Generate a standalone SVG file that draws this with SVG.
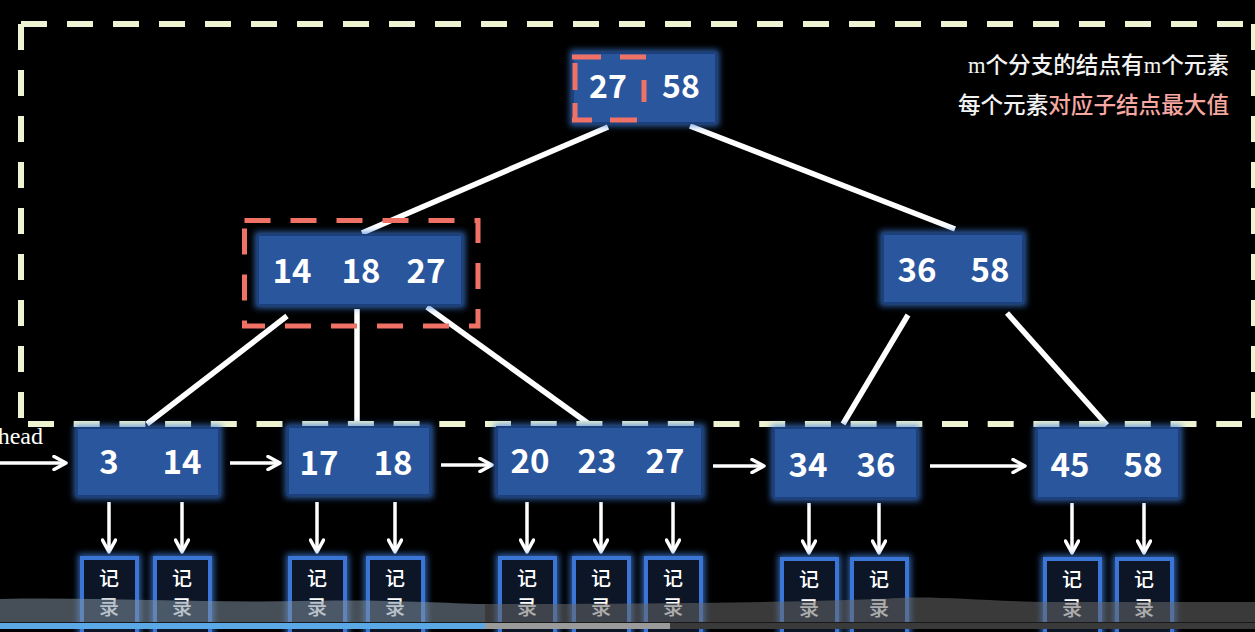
<svg xmlns="http://www.w3.org/2000/svg" width="1255" height="632" viewBox="0 0 1255 632">
<defs>
<style>
.node{fill:#2c569d;stroke:#1d3f7c;stroke-width:2;filter:url(#glow)}
.num{font-family:"Noto Sans CJK SC","Noto Sans",sans-serif;font-weight:bold;font-size:33px;fill:#fff;text-anchor:middle}
.rec{fill:#0a1326;stroke:#3a74d6;stroke-width:4;filter:url(#glow)}
.rt{font-family:"Noto Sans CJK SC",sans-serif;font-weight:500;font-size:20px;fill:#fff;text-anchor:middle}
.edge{stroke:#fff;stroke-width:5.5;fill:none}
.arr{stroke:#fff;stroke-width:3.5;fill:none;marker-end:url(#ah)}
.dash{stroke:#eef3d2;stroke-width:6;fill:none;stroke-dasharray:26 20}
.red{stroke:#f07266;stroke-width:5;fill:none}
.note{font-family:"Noto Sans CJK SC",sans-serif;font-weight:500;font-size:22.6px;fill:#f2f2f2;text-anchor:end}
</style>
<filter id="glow" x="-20%" y="-20%" width="140%" height="140%">
<feMorphology operator="dilate" radius="2" in="SourceAlpha" result="d"/>
<feGaussianBlur in="d" stdDeviation="3" result="b"/>
<feFlood flood-color="#3f7fe0" flood-opacity="0.75"/>
<feComposite in2="b" operator="in" result="g"/>
<feMerge><feMergeNode in="g"/><feMergeNode in="SourceGraphic"/></feMerge>
</filter>
<marker id="ah" viewBox="0 0 16 16" refX="14" refY="8" markerWidth="16" markerHeight="16" markerUnits="userSpaceOnUse" orient="auto">
<path d="M2,1.5 L14,8 L2,14.5" fill="none" stroke="#fff" stroke-width="3.5" stroke-linecap="round" stroke-linejoin="round"/>
</marker>
</defs>
<rect width="1255" height="632" fill="#000"/>

<g id="connectors">
<line class="edge" x1="608" y1="127" x2="362" y2="233"/>
<line class="edge" x1="690" y1="126" x2="955" y2="229"/>
<line class="edge" x1="287" y1="316" x2="147" y2="424"/>
<line class="edge" x1="357" y1="309" x2="357" y2="422"/>
<line class="edge" x1="427" y1="307" x2="589" y2="424"/>
<line class="edge" x1="908" y1="315" x2="843" y2="424"/>
<line class="edge" x1="1007" y1="313" x2="1107" y2="425"/>
<line class="arr" x1="0" y1="463" x2="66" y2="463"/>
<line class="arr" x1="230" y1="463" x2="280" y2="463"/>
<line class="arr" x1="441" y1="465" x2="492" y2="465"/>
<line class="arr" x1="713" y1="466" x2="764" y2="466"/>
<line class="arr" x1="930" y1="466" x2="1025" y2="466"/>
<line class="arr" x1="109" y1="502" x2="109" y2="552"/>
<line class="arr" x1="182" y1="502" x2="182" y2="552"/>
<line class="arr" x1="317" y1="502" x2="317" y2="552"/>
<line class="arr" x1="395" y1="502" x2="395" y2="552"/>
<line class="arr" x1="527" y1="502" x2="527" y2="552"/>
<line class="arr" x1="601" y1="502" x2="601" y2="552"/>
<line class="arr" x1="673" y1="502" x2="673" y2="552"/>
<line class="arr" x1="809" y1="503" x2="809" y2="553"/>
<line class="arr" x1="879" y1="503" x2="879" y2="553"/>
<line class="arr" x1="1072" y1="503" x2="1072" y2="553"/>
<line class="arr" x1="1144" y1="503" x2="1144" y2="553"/>
</g>

<g id="frame">
<line class="dash" x1="21" y1="24" x2="1254" y2="24"/>
<line class="dash" x1="21" y1="24" x2="21" y2="424"/>
<line class="dash" x1="1254" y1="24" x2="1254" y2="418"/>
<line class="dash" x1="28" y1="424" x2="1242" y2="424" style="stroke-dasharray:26 19.7"/>
</g>

<g id="root">
<rect class="node" x="573" y="53" width="143" height="70"/>
<text class="num" x="608" y="98" style="font-size:32px">27</text>
<text class="num" x="681" y="98" style="font-size:32px">58</text>
<g class="red">
<line x1="572" y1="57" x2="601" y2="57"/>
<line x1="620" y1="57" x2="646" y2="57"/>
<line x1="644" y1="80" x2="644" y2="102"/>
<line x1="572" y1="120" x2="592" y2="120"/>
<line x1="610" y1="120" x2="637" y2="120"/>
<line x1="575" y1="63" x2="575" y2="90"/>
<line x1="575" y1="103" x2="575" y2="122"/>
</g>
</g>

<g id="inner-left">
<rect class="node" x="258" y="235" width="204" height="70"/>
<text class="num" x="292" y="283">14</text>
<text class="num" x="361" y="283">18</text>
<text class="num" x="426" y="283">27</text>
<rect class="red" x="244.5" y="220.5" width="233.5" height="105.5" style="stroke-dasharray:26 20"/>
</g>

<g id="inner-right">
<rect class="node" x="883" y="234" width="140" height="69"/>
<text class="num" x="917" y="282">36</text>
<text class="num" x="990" y="282">58</text>
</g>

<g id="leaf1">
<rect class="node" x="77" y="428" width="142" height="68"/>
<text class="num" x="109" y="474">3</text>
<text class="num" x="182" y="474">14</text>
</g>
<g id="leaf2">
<rect class="node" x="288" y="427" width="142" height="68"/>
<text class="num" x="319" y="475">17</text>
<text class="num" x="393" y="475">18</text>
</g>
<g id="leaf3">
<rect class="node" x="497" y="427" width="205" height="69"/>
<text class="num" x="530" y="473">20</text>
<text class="num" x="597" y="473">23</text>
<text class="num" x="665" y="473">27</text>
</g>
<g id="leaf4">
<rect class="node" x="774" y="428" width="143" height="70"/>
<text class="num" x="808" y="477">34</text>
<text class="num" x="876" y="477">36</text>
</g>
<g id="leaf5">
<rect class="node" x="1037" y="428" width="142" height="70"/>
<text class="num" x="1070" y="477">45</text>
<text class="num" x="1143" y="477">58</text>
</g>

<g id="rec1"><rect class="rec" x="82" y="558" width="55" height="85"/><text class="rt" x="109" y="586">记</text><text class="rt" x="109" y="615">录</text></g>
<g id="rec2"><rect class="rec" x="155" y="558" width="55" height="85"/><text class="rt" x="182" y="586">记</text><text class="rt" x="182" y="615">录</text></g>
<g id="rec3"><rect class="rec" x="290" y="558" width="55" height="85"/><text class="rt" x="317" y="586">记</text><text class="rt" x="317" y="615">录</text></g>
<g id="rec4"><rect class="rec" x="368" y="558" width="55" height="85"/><text class="rt" x="395" y="586">记</text><text class="rt" x="395" y="615">录</text></g>
<g id="rec5"><rect class="rec" x="500" y="558" width="55" height="85"/><text class="rt" x="527" y="586">记</text><text class="rt" x="527" y="615">录</text></g>
<g id="rec6"><rect class="rec" x="574" y="558" width="55" height="85"/><text class="rt" x="601" y="586">记</text><text class="rt" x="601" y="615">录</text></g>
<g id="rec7"><rect class="rec" x="646" y="558" width="55" height="85"/><text class="rt" x="673" y="586">记</text><text class="rt" x="673" y="615">录</text></g>
<g id="rec8"><rect class="rec" x="782" y="559" width="55" height="85"/><text class="rt" x="809" y="587">记</text><text class="rt" x="809" y="616">录</text></g>
<g id="rec9"><rect class="rec" x="852" y="559" width="55" height="85"/><text class="rt" x="879" y="587">记</text><text class="rt" x="879" y="616">录</text></g>
<g id="rec10"><rect class="rec" x="1045" y="559" width="55" height="85"/><text class="rt" x="1072" y="587">记</text><text class="rt" x="1072" y="616">录</text></g>
<g id="rec11"><rect class="rec" x="1117" y="559" width="55" height="85"/><text class="rt" x="1144" y="587">记</text><text class="rt" x="1144" y="616">录</text></g>

<g id="head-label">
<text x="43" y="444" font-family="'Liberation Serif',serif" font-size="24" fill="#fff" text-anchor="end">head</text>
</g>

<g id="note">
<text class="note" x="1229" y="73"><tspan font-family="'Liberation Serif',serif">m</tspan>个分支的结点有<tspan font-family="'Liberation Serif',serif">m</tspan>个元素</text>
<text class="note" x="1229" y="113">每个元素<tspan fill="#f5a7a0">对应子结点最大值</tspan></text>
</g>

<g id="player-bar">
<path d="M0,599 C100,597 200,603 300,601 C380,599 440,603 485,604 L485,622 L0,622 Z" fill="#7f8f9f" opacity="0.55"/>
<path d="M485,604 C600,604 800,603 900,598 C940,596 980,601 1050,602 L1255,602 L1255,622 L485,622 Z" fill="#6a6a6a" opacity="0.55"/>
<rect x="0" y="622" width="1255" height="1" fill="#1a1a1a"/>
<rect x="0" y="623" width="1255" height="6" fill="#3a3a3a"/>
<rect x="485" y="623" width="185" height="6" fill="#9a9a9a"/>
<rect x="0" y="623" width="485" height="6" fill="#5aa9e6"/>
</g>
</svg>
